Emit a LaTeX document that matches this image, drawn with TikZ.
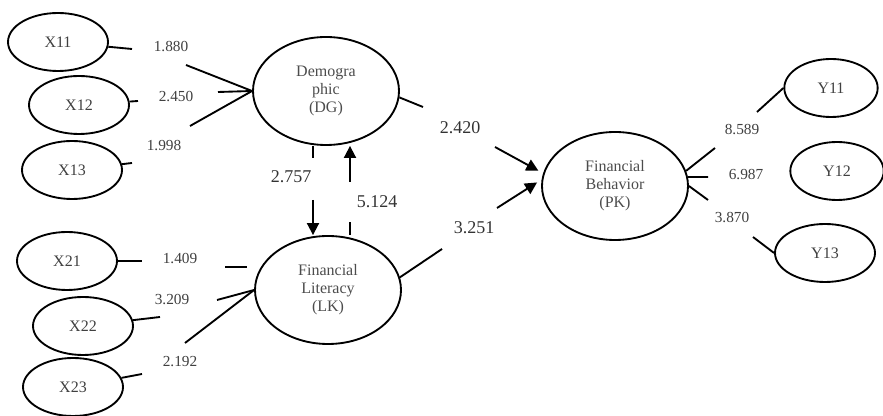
\documentclass[tikz,border=0pt]{standalone}
\usepackage{fontspec}
\setmainfont{Liberation Serif}
\usetikzlibrary{shapes.geometric,arrows.meta}

\tikzset{every picture/.style={line width=1.4pt}}
\tikzset{
  lat/.style={draw,ellipse,minimum width=109.5pt,minimum height=81pt,inner sep=0pt,align=center,text=black!70,font=\fontsize{12}{13.5}\selectfont},
  ind/.style={draw,ellipse,minimum width=75pt,minimum height=43.5pt,inner sep=0pt,text=black!75,font=\fontsize{12}{14}\selectfont},
  val/.style={text=black!75,inner sep=1pt,font=\fontsize{11.5}{13}\selectfont},
  coef/.style={text=black!80,inner sep=1pt,font=\fontsize{13.5}{15}\selectfont},
  arr/.style={-{Triangle[length=9pt,width=9pt]}},
}

\begin{document}
\begin{tikzpicture}[x=0.75pt,y=0.75pt,yscale=-1,xscale=1]
	\useasboundingbox (0,0) rectangle (883,416);

	%Shape: Ellipse (latent)
	\node[lat] (dg) at (326,91) {Demogra\\phic\\(DG)};
	\node[lat] (lk) at (328,290) {Financial\\Literacy\\(LK)};
	\node[lat] (pk) at (615,186) {Financial\\Behavior\\(PK)};
	%Shape: Ellipse (indicators)
	\node[ind] (x11) at (58,42) {X11};
	\node[ind] (x12) at (79,105) {X12};
	\node[ind] (x13) at (72,170) {X13};
	\node[ind] (x21) at (67,261) {X21};
	\node[ind] (x22) at (83,326) {X22};
	\node[ind] (x23) at (73,387) {X23};
	\node[ind,minimum width=70pt] (y11) at (831,88) {Y11};
	\node[ind,minimum width=70pt] (y12) at (837,171) {Y12};
	\node[ind] (y13) at (825,253) {Y13};

	% Text Node
	\node[val] (v11) at (171,47) {1.880};
	\node[val] (v12) at (176,97) {2.450};
	\node[val] (v13) at (164,146) {1.998};
	\node[val] (v21) at (180,259) {1.409};
	\node[val] (v22) at (172,300) {3.209};
	\node[val] (v23) at (180,362) {2.192};
	\node[val] (w11) at (742,130) {8.589};
	\node[val] (w12) at (746,175) {6.987};
	\node[val] (w13) at (732,218) {3.870};
	\node[coef] (p1) at (291,177) {2.757};
	\node[coef] (p2) at (377,202) {5.124};
	\node[coef] (p3) at (460,128) {2.420};
	\node[coef] (p4) at (474,228) {3.251};

	%break points of the lines
	\coordinate (a11) at (132,49);  \coordinate (b11) at (186,65);
	\coordinate (a12) at (138,101); \coordinate (b12) at (218,92);
	\coordinate (a13) at (132,163); \coordinate (b13) at (190,126);
	\coordinate (a21) at (142,261); \coordinate (b21) at (225,267);
	\coordinate (a22) at (160,317); \coordinate (b22) at (217,300);
	\coordinate (a23) at (142,374); \coordinate (b23) at (185,343);
	\coordinate (c1) at (313,158);  \coordinate (d1) at (313,200);
	\coordinate (c2) at (350,222);  \coordinate (d2) at (350,182);
	\coordinate (c3) at (423,107);  \coordinate (d3) at (495,147);
	\coordinate (c4) at (442,249);  \coordinate (d4) at (497,208);
	\coordinate (c5) at (715,148);  \coordinate (d5) at (757,112);
	\coordinate (c6) at (708,177);
	\coordinate (c7) at (708,200);  \coordinate (d7) at (753,237);

	%Straight Lines (DG block)
	\draw (x11) -- (a11);  \draw (b11) -- (dg.west);
	\draw (x12) -- (a12);  \draw (b12) -- (dg.west);
	\draw (x13) -- (a13);  \draw (b13) -- (dg.west);
	%Straight Lines (LK block)
	\draw (x21) -- (a21);  \draw[shorten >=5pt] (b21) -- (b21 -| lk.west);
	\draw (x22) -- (a22);  \draw (b22) -- (lk.west);
	\draw (x23) -- (a23);  \draw (b23) -- (lk.west);

	%Straight Lines (paths)
	\draw (c1 |- dg.south) -- (c1);  \draw[arr] (d1) -- (d1 |- lk.north);
	\draw (c2 |- lk.north) -- (c2);  \draw[arr] (d2) -- (d2 |- dg.south);
	\draw (dg.-5) -- (c3);  \draw[arr,shorten >=4pt] (d3) -- (pk.170);
	\draw (lk.10) -- (c4);  \draw[arr,shorten >=4pt] (d4) -- (pk.175);

	%Straight Lines (PK block)
	\draw (pk.12) -- (c5);  \draw (d5) -- (y11.west);
	\draw (pk.7) -- (c6);
	\draw (pk.east) -- (c7);  \draw (d7) -- (y13.west);

\end{tikzpicture}
\end{document}
